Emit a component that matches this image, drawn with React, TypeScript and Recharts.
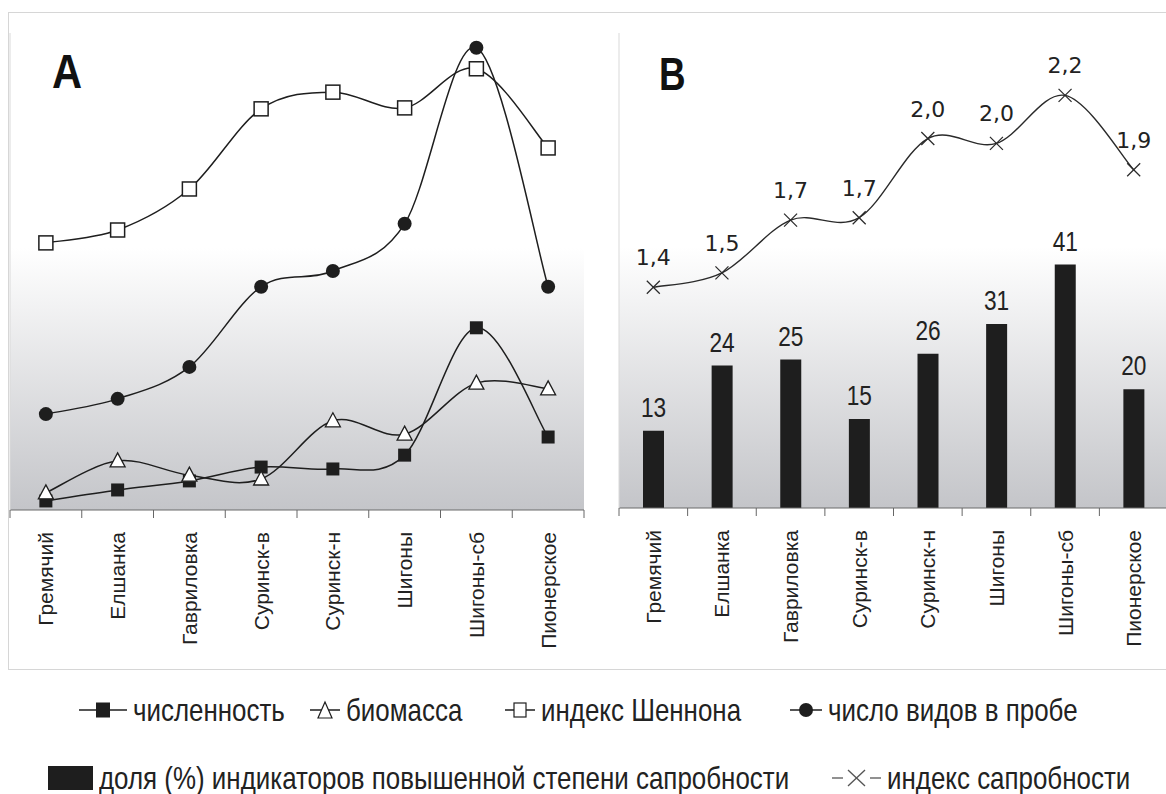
import React from 'react';
import { LineChart, Line, XAxis, YAxis, CartesianGrid, ComposedChart, Bar, LabelList } from 'recharts';

const categories = ['Гремячий', 'Елшанка', 'Гавриловка', 'Суринск-в', 'Суринск-н', 'Шигоны', 'Шигоны-сб', 'Пионерское'];

// panel A has no y scale, values are relative (0..100 of plot height)
const abundance = [1.9, 4.2, 6.1, 9.0, 8.6, 11.5, 38.2, 15.3];
const biomass = [3.6, 10.3, 7.3, 6.5, 18.7, 15.9, 26.6, 25.4];
const shannon = [56.0, 58.7, 67.3, 84.1, 87.6, 84.3, 92.5, 75.9];
const speciesCount = [20.1, 23.3, 30.0, 46.8, 50.1, 60.0, 96.9, 46.8];

// panel B
const saprobicShare = [13, 24, 25, 15, 26, 31, 41, 20];
const saprobityIndex = [1.4, 1.46, 1.68, 1.69, 2.02, 2.0, 2.2, 1.89];

const dataA = categories.map((name, i) => ({
    name,
    abundance: abundance[i],
    biomass: biomass[i],
    shannon: shannon[i],
    species: speciesCount[i],
}));

const dataB = categories.map((name, i) => ({
    name,
    share: saprobicShare[i],
    index: saprobityIndex[i],
}));

const SANS = "'Liberation Sans', Arial, sans-serif";
const INK = '#1e1e1e';
const NARROW_X = 0.81; // no narrow font installed, squeeze Liberation Sans instead

// excel-like smoothed line (catmull-rom through the points)
const smooth = (context: any) => {
    let pts: number[][] = [];
    return {
        areaStart() {},
        areaEnd() {},
        lineStart() {
            pts = [];
        },
        point(x: number, y: number) {
            pts.push([x, y]);
        },
        lineEnd() {
            if (!pts.length) return;
            context.moveTo(pts[0][0], pts[0][1]);
            for (let i = 0; i < pts.length - 1; i++) {
                const p0 = pts[Math.max(i - 1, 0)];
                const p1 = pts[i];
                const p2 = pts[i + 1];
                const p3 = pts[Math.min(i + 2, pts.length - 1)];
                context.bezierCurveTo(
                    p1[0] + (p2[0] - p0[0]) / 6,
                    p1[1] + (p2[1] - p0[1]) / 6,
                    p2[0] - (p3[0] - p1[0]) / 6,
                    p2[1] - (p3[1] - p1[1]) / 6,
                    p2[0],
                    p2[1]
                );
            }
        },
    };
};

const FilledSquare = (p: any) => (
    <rect key={`fs${p.index}`} x={p.cx - 6.5} y={p.cy - 6.5} width={13} height={13} fill={INK} />
);
const OpenSquare = (p: any) => (
    <rect key={`os${p.index}`} x={p.cx - 7} y={p.cy - 7} width={14} height={14} fill="#fff" stroke={INK} strokeWidth={1.5} />
);
const Dot = (p: any) => <circle key={`c${p.index}`} cx={p.cx} cy={p.cy} r={7} fill={INK} />;
const Triangle = (p: any) => (
    <path
        key={`tr${p.index}`}
        d={`M${p.cx},${p.cy - 8} L${p.cx + 7.5},${p.cy + 6} L${p.cx - 7.5},${p.cy + 6} Z`}
        fill="#fff"
        stroke={INK}
        strokeWidth={1.3}
    />
);
const Cross = (p: any) => (
    <g key={`x${p.index}`} stroke="#2a2a2a" strokeWidth={1.3}>
        <line x1={p.cx - 6.5} y1={p.cy - 6.5} x2={p.cx + 6.5} y2={p.cy + 6.5} />
        <line x1={p.cx - 6.5} y1={p.cy + 6.5} x2={p.cx + 6.5} y2={p.cy - 6.5} />
    </g>
);

const BarValue = (p: any) => {
    const cx = p.x + p.width / 2;
    const by = p.y - 14;
    return (
        <text
            transform={`translate(${cx},${by}) scale(${NARROW_X},1)`}
            textAnchor="middle"
            fontSize={28}
            fontFamily={SANS}
            fill="#222"
        >
            {p.value}
        </text>
    );
};

// labels in the middle of a category, ticks on the category borders
const makeTick = (step: number) => (p: any) => {
    const { x, y, payload, index } = p;
    const ty = y + 22;
    return (
        <g key={`t${index}`}>
            <line x1={x - step / 2} y1={y} x2={x - step / 2} y2={y + 8} stroke="#666" />
            {index === categories.length - 1 && (
                <line x1={x + step / 2} y1={y} x2={x + step / 2} y2={y + 8} stroke="#666" />
            )}
            <text
                x={x}
                y={ty}
                transform={`rotate(-90 ${x} ${ty})`}
                textAnchor="end"
                dominantBaseline="central"
                fontSize={21}
                fontFamily={SANS}
                fill="#222"
            >
                {payload.value}
            </text>
        </g>
    );
};

const Gradient = ({ id }: { id: string }) => (
    <defs>
        <linearGradient id={id} x1="0" y1="0" x2="0" y2="1">
            <stop offset="0%" stopColor="#ffffff" />
            <stop offset="45%" stopColor="#ffffff" />
            <stop offset="100%" stopColor="#c4c5c9" />
        </linearGradient>
    </defs>
);

const LegendLine = ({ children, width = 46 }: { children: React.ReactNode; width?: number }) => (
    <svg width={width} height={24} style={{ display: 'block', flex: 'none' }}>
        <line x1={0} y1={12} x2={width} y2={12} stroke={INK} strokeWidth={1.5} />
        {children}
    </svg>
);

const legendText: React.CSSProperties = {
    fontFamily: SANS,
    fontSize: 32,
    color: '#222',
    lineHeight: '32px',
    whiteSpace: 'nowrap',
    display: 'inline-block',
    transform: `scaleX(${NARROW_X})`,
    transformOrigin: 'left center',
};
const item = (left: number, top: number): React.CSSProperties => ({
    position: 'absolute',
    left,
    top,
    display: 'flex',
    alignItems: 'center',
    gap: 6,
});

export default function App() {
    return (
        <div style={{ position: 'absolute', left: 0, top: 0, width: 1166, height: 794, overflow: 'hidden', background: '#fff' }}>
            <div style={{ position: 'absolute', left: 8, top: 12, width: 1180, height: 656, border: '1px solid #d6d6d6' }} />

            <div style={{ position: 'absolute', left: 0, top: 0 }}>
                <LineChart width={600} height={660} data={dataA} margin={{ top: 33, right: 16, left: 9, bottom: 0 }}>
                    <Gradient id="bgA" />
                    <CartesianGrid horizontal={false} vertical={false} fill="url(#bgA)" stroke="none" />
                    <XAxis
                        dataKey="name"
                        scale="band"
                        interval={0}
                        height={150}
                        tickSize={0}
                        tickMargin={0}
                        tickLine={false}
                        axisLine={{ stroke: '#6b6b6b' }}
                        tick={makeTick(574 / categories.length)}
                    />
                    <YAxis width={1} domain={[0, 100]} tick={false} tickLine={false} axisLine={{ stroke: '#d9d9d9' }} />
                    <Line dataKey="shannon" type={smooth as any} stroke={INK} strokeWidth={1.5} dot={OpenSquare} isAnimationActive={false} />
                    <Line dataKey="species" type={smooth as any} stroke={INK} strokeWidth={1.5} dot={Dot} isAnimationActive={false} />
                    <Line dataKey="abundance" type={smooth as any} stroke={INK} strokeWidth={1.5} dot={FilledSquare} isAnimationActive={false} />
                    <Line dataKey="biomass" type={smooth as any} stroke={INK} strokeWidth={1.5} dot={Triangle} isAnimationActive={false} />
                </LineChart>
            </div>

            <div style={{ position: 'absolute', left: 590, top: 0 }}>
                <ComposedChart width={590} height={660} data={dataB} margin={{ top: 33, right: 12, left: 28, bottom: 0 }}>
                    <Gradient id="bgB" />
                    <CartesianGrid yAxisId="share" horizontal={false} vertical={false} fill="url(#bgB)" stroke="none" />
                    <XAxis
                        dataKey="name"
                        interval={0}
                        height={152}
                        tickSize={0}
                        tickMargin={0}
                        tickLine={false}
                        axisLine={{ stroke: '#6b6b6b' }}
                        tick={makeTick(549 / categories.length)}
                    />
                    <YAxis yAxisId="share" width={1} domain={[0, 80]} tick={false} tickLine={false} axisLine={{ stroke: '#d9d9d9' }} />
                    <YAxis yAxisId="idx" orientation="right" hide domain={[0.48, 2.46]} />
                    <Bar yAxisId="share" dataKey="share" fill={INK} barSize={21} isAnimationActive={false}>
                        <LabelList dataKey="share" content={BarValue} />
                    </Bar>
                    <Line
                        yAxisId="idx"
                        dataKey="index"
                        type={smooth as any}
                        stroke="#2a2a2a"
                        strokeWidth={1.4}
                        dot={Cross}
                        isAnimationActive={false}
                    >
                        <LabelList
                            dataKey="index"
                            position="top"
                            offset={22}
                            fontFamily="'DejaVu Sans', sans-serif"
                            fontSize={22}
                            fill="#222"
                            formatter={(v: any) => Number(v).toFixed(1).replace('.', ',')}
                        />
                    </Line>
                </ComposedChart>
            </div>

            <svg width={1166} height={120} style={{ position: 'absolute', left: 0, top: 0, pointerEvents: 'none' }}>
                <text transform="translate(52,88) scale(0.85,1)" fontFamily={SANS} fontWeight="bold" fontSize={49} fill="#111">A</text>
                <text transform="translate(659,90) scale(0.8,1)" fontFamily={SANS} fontWeight="bold" fontSize={46} fill="#111">B</text>
            </svg>

            {/* legend, row 1 */}
            <div style={item(79, 694)}>
                <LegendLine width={48}>
                    <rect x={17} y={4.5} width={14} height={15} fill={INK} />
                </LegendLine>
                <span style={legendText}>численность</span>
            </div>
            <div style={item(310, 694)}>
                <LegendLine width={30}>
                    <path d="M15,4 L22,20 L8,20 Z" fill="#fff" stroke={INK} strokeWidth={1.2} />
                </LegendLine>
                <span style={legendText}>биомасса</span>
            </div>
            <div style={item(505, 694)}>
                <LegendLine width={30}>
                    <rect x={9} y={5} width={12} height={14} fill="#fff" stroke={INK} strokeWidth={1.2} />
                </LegendLine>
                <span style={legendText}>индекс Шеннона</span>
            </div>
            <div style={item(790, 694)}>
                <LegendLine width={32}>
                    <circle cx={16} cy={12} r={7} fill={INK} />
                </LegendLine>
                <span style={legendText}>число видов в пробе</span>
            </div>

            {/* legend, row 2 */}
            <div style={item(48, 762)}>
                <div style={{ width: 45, height: 24, background: INK, flex: 'none' }} />
                <span style={legendText}>доля (%) индикаторов повышенной степени сапробности</span>
            </div>
            <div style={item(832, 762)}>
                <svg width={49} height={24} style={{ display: 'block', flex: 'none' }}>
                    <g stroke="#555" strokeWidth={1.3}>
                        <line x1={0} y1={12} x2={11} y2={12} />
                        <line x1={16} y1={4} x2={33} y2={20} />
                        <line x1={16} y1={20} x2={33} y2={4} />
                        <line x1={38} y1={12} x2={49} y2={12} />
                    </g>
                </svg>
                <span style={legendText}>индекс сапробности</span>
            </div>
        </div>
    );
}
